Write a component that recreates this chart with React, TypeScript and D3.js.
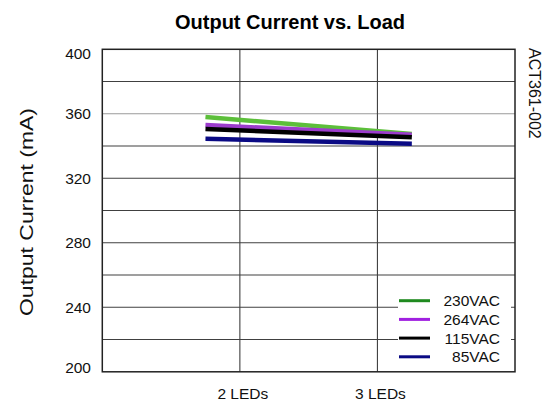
import React from "react";
import * as d3 from "d3";

const categories = ["2 LEDs", "3 LEDs"];
const seriesNames = ["230VAC", "264VAC", "115VAC", "85VAC"];
const v230 = [358, 347.5];
const v264 = [353, 347];
const v115 = [350.5, 345.5];
const v85 = [344.5, 341.5];
const yTicks = [200, 240, 280, 320, 360, 400];
const yGrid = [220, 240, 260, 280, 300, 320, 340, 360, 380];
const xGridPositions = [1, 2];

const lineColors = ["#5cbf3a", "#9c3ccc", "#000000", "#0a0a84"];
const legendColors = ["#1f8a1f", "#a020e0", "#000000", "#0a0a84"];

export default function App() {
  const W = 549, H = 403;
  const left = 102.3, right = 515, top = 49.3, bottom = 371.8;
  const font = "'Liberation Sans', Arial, Helvetica, sans-serif";

  const y = d3.scaleLinear().domain([200, 400]).range([bottom, top]);
  const xBand = d3.scaleBand().domain(categories).range([left, right]);
  const xGrid = d3.scaleLinear().domain([0, 3]).range([left, right]);

  const series = [v230, v264, v115, v85];
  const line = d3
    .line<number>()
    .x((_, i) => (xBand(categories[i]) as number) + xBand.bandwidth() / 2)
    .y((d) => y(d));

  const legendX1 = 399, legendX2 = 430, legendTextX = 500;
  const legendY0 = 300.7, legendStep = 18.7;

  return (
    <svg
      width={W}
      height={H}
      style={{ position: "absolute", left: 0, top: 0, background: "#fff" }}
      fontFamily={font}
    >
      <rect x={0} y={0} width={W} height={H} fill="#fff" />
      <text x={290} y={28.5} textAnchor="middle" fontSize={20} fontWeight="bold" fill="#000">
        Output Current vs. Load
      </text>

      {yGrid.map((v) => (
        <line
          key={"h" + v}
          x1={left}
          x2={right}
          y1={y(v)}
          y2={y(v)}
          stroke={v === 360 ? "#9a9a9a" : "#404040"}
          strokeWidth={1.1}
        />
      ))}
      {xGridPositions.map((p) => (
        <line key={"v" + p} x1={xGrid(p)} x2={xGrid(p)} y1={top} y2={bottom} stroke="#404040" strokeWidth={1.1} />
      ))}

      {series.map((s, i) => (
        <path key={"s" + i} d={line(s) as string} fill="none" stroke={lineColors[i]} strokeWidth={4.5} />
      ))}

      <rect x={398} y={290} width={113} height={78} fill="#fff" />
      {seriesNames.map((name, i) => {
        const ly = legendY0 + i * legendStep;
        return (
          <g key={"l" + name}>
            <line x1={legendX1} x2={legendX2} y1={ly} y2={ly} stroke={legendColors[i]} strokeWidth={3} />
            <text x={legendTextX} y={ly} dy="0.36em" textAnchor="end" fontSize={15.5} fill="#111">
              {name}
            </text>
          </g>
        );
      })}

      <rect x={left} y={top} width={right - left} height={bottom - top} fill="none" stroke="#222" strokeWidth={1.5} />

      {yTicks.map((v) => (
        <text key={"t" + v} x={91} y={y(v) + (v === 400 ? 4 : v === 200 ? -4 : 0)} dy="0.36em" textAnchor="end" fontSize={15.5} fill="#111">
          {v}
        </text>
      ))}

      {categories.map((c, i) => (
        <text key={"x" + c} x={xGrid(xGridPositions[i]) + 3} y={398.5} textAnchor="middle" fontSize={15.5} fill="#111">
          {c}
        </text>
      ))}

      <text
        transform={`translate(33,212) rotate(-90)`}
        textAnchor="middle"
        fontSize={18}
        textLength={208}
        lengthAdjust="spacingAndGlyphs"
        fill="#111"
      >
        Output Current (mA)
      </text>

      <text transform={`translate(529,48) rotate(90)`} textAnchor="start" fontSize={16} fill="#111">
        ACT361-002
      </text>
    </svg>
  );
}
